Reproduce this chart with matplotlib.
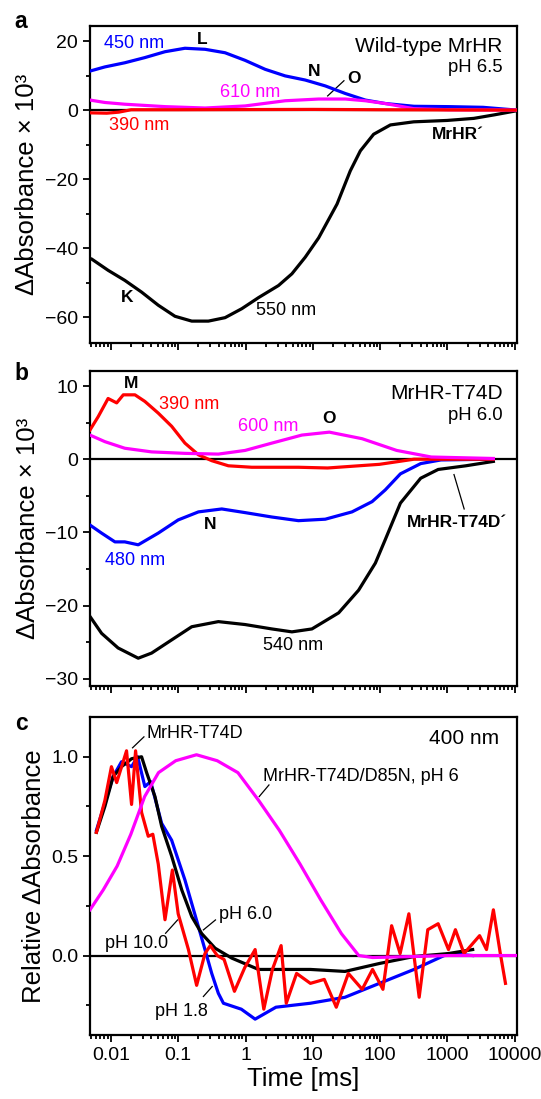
import matplotlib
matplotlib.use('Agg')
import matplotlib.pyplot as plt
from matplotlib.ticker import MultipleLocator, LogLocator, NullFormatter

plt.rcParams['font.family'] = ['Liberation Sans', 'DejaVu Sans']

# ---- panel a: wild-type MrHR, pH 6.5 ----
t_a_550 = [0.0049, 0.00516, 0.00912, 0.0161, 0.0286, 0.0506, 0.0896, 0.159, 0.281, 0.497,
           0.881, 1.56, 3.09, 4.89, 7.71, 12.2, 22.9, 36.0, 50.8, 80.0,
           142, 315, 988, 2460, 4900, 10600]
a_550 = [-43.0, -43.1, -46.4, -49.3, -52.7, -56.5, -59.7, -61.1, -61.1, -60.1,
         -57.5, -54.3, -50.8, -47.4, -42.6, -37.0, -27.2, -17.6, -11.8, -7.0,
         -4.3, -3.4, -3.0, -2.4, -1.4, -0.2]
t_a_450 = [0.0049, 0.00815, 0.0161, 0.032, 0.0637, 0.126, 0.251, 0.497, 0.986, 1.96,
           3.88, 7.71, 15.3, 30.4, 60.3, 119, 318, 1036, 3376, 10600]
a_450 = [11.3, 12.5, 13.7, 15.2, 16.9, 17.9, 17.6, 16.6, 14.4, 11.8,
         9.9, 8.7, 7.0, 4.8, 2.9, 1.9, 1.1, 1.0, 0.8, 0.0]
t_a_610 = [0.0049, 0.00815, 0.0161, 0.0637, 0.251, 0.986, 3.88, 12.2, 30.4, 60.3,
           119, 318, 1036, 10600]
a_610 = [2.9, 2.2, 1.7, 1.0, 0.6, 1.2, 2.7, 3.2, 3.2, 2.7,
         1.9, 0.4, 0.1, 0.0]
t_a_390 = [0.0049, 0.0087, 0.0131, 0.02, 0.1, 1.0, 10, 100, 1000, 10600]
a_390 = [-0.8, -0.9, -0.6, 0.1, 0.1, 0.15, 0.2, 0.1, 0.05, 0.0]

# ---- panel b: MrHR-T74D, pH 6.0 ----
t_b_390 = [0.0049, 0.00647, 0.0091, 0.0122, 0.0153, 0.0228, 0.032, 0.0506, 0.080, 0.126,
           0.20, 0.315, 0.557, 1.24, 6.12, 16.6, 97.6, 318, 1036, 4808]
b_390 = [4.0, 5.8, 8.3, 7.7, 8.8, 8.8, 7.9, 6.3, 4.5, 2.2,
         0.6, -0.2, -0.9, -1.1, -1.1, -1.2, -0.7, 0.0, 0.0, 0.0]
t_b_600 = [0.0049, 0.00815, 0.0161, 0.0403, 0.126, 0.395, 0.986, 2.46, 6.88, 17.6,
           54.1, 176, 574, 4808]
b_600 = [3.3, 2.4, 1.5, 1.0, 0.8, 0.7, 1.2, 2.2, 3.3, 3.7,
         2.8, 1.2, 0.3, 0.1]
t_b_480 = [0.0049, 0.00728, 0.0115, 0.0161, 0.0255, 0.0506, 0.1, 0.20, 0.444, 0.986,
           2.46, 6.12, 15.3, 38.2, 75.9, 119, 200, 400, 800, 4808]
b_480 = [-9.0, -10.1, -11.3, -11.3, -11.7, -10.1, -8.3, -7.2, -6.8, -7.3,
         -7.9, -8.4, -8.2, -7.2, -5.8, -4.2, -2.0, -0.6, -0.1, 0.0]
t_b_540 = [0.0049, 0.00728, 0.0128, 0.0255, 0.0403, 0.080, 0.159, 0.395, 0.986, 2.46,
           4.89, 9.7, 24.2, 47.9, 84.9, 119, 200, 400, 727, 1870, 4808]
b_540 = [-21.5, -23.8, -25.8, -27.2, -26.5, -24.7, -22.9, -22.2, -22.6, -23.2,
         -23.6, -23.2, -21.0, -17.9, -14.2, -11.0, -6.0, -2.6, -1.4, -0.9, -0.3]

# ---- panel c: relative absorbance at 400 nm ----
t_c_d85n = [0.0049, 0.0077, 0.0124, 0.0198, 0.0318, 0.051, 0.092, 0.187, 0.380, 0.771,
            1.57, 3.18, 6.46, 13.1, 26.6, 48.1, 77.1, 318, 1036, 10600]
c_d85n = [0.23, 0.33, 0.45, 0.61, 0.80, 0.92, 0.98, 1.01, 0.98, 0.92,
          0.78, 0.63, 0.46, 0.28, 0.11, 0.0, -0.01, -0.005, 0.0, 0.0]
t_c_ph6 = [0.0061, 0.00815, 0.0108, 0.0144, 0.0203, 0.0286, 0.034, 0.0452, 0.0568, 0.080,
           0.113, 0.159, 0.224, 0.353, 0.625, 1.56, 9.2, 30.0, 97.6, 318, 1036, 2368]
c_ph6 = [0.62, 0.75, 0.90, 0.95, 0.99, 1.0, 0.92, 0.80, 0.65, 0.50,
         0.33, 0.196, 0.11, 0.037, -0.013, -0.07, -0.07, -0.08, -0.04, -0.005, 0.01, 0.03]
t_c_ph18 = [0.0061, 0.0108, 0.0144, 0.0203, 0.025, 0.032, 0.039, 0.0568, 0.080, 0.126,
            0.175, 0.25, 0.315, 0.395, 0.47, 0.867, 1.39, 2.83, 9.2, 30.0,
            97.6, 318, 1036, 2368]
c_ph18 = [0.63, 0.90, 0.975, 0.95, 1.0, 0.85, 0.875, 0.665, 0.58, 0.38,
          0.213, 0.03, -0.09, -0.19, -0.24, -0.27, -0.32, -0.26, -0.24, -0.21,
          -0.14, -0.07, 0.01, 0.0]
t_c_ph10 = [0.0061, 0.00815, 0.0102, 0.0122, 0.0171, 0.0203, 0.0233, 0.0286, 0.0359, 0.042,
            0.0506, 0.0637, 0.082, 0.1, 0.142, 0.188, 0.25, 0.300, 0.380, 0.481,
            0.685, 0.977, 1.39, 1.87, 2.51, 3.38, 4.03, 5.74, 9.2, 14.8,
            22.3, 33.7, 54.1, 77.1, 110, 148, 198, 267, 318, 380,
            510, 727, 1036, 1312, 1762, 3000, 3800, 4808, 6094, 7271]
c_ph10 = [0.62, 0.78, 0.95, 0.87, 1.03, 0.76, 1.03, 0.72, 0.60, 0.61,
          0.46, 0.18, 0.43, 0.21, 0.03, -0.15, 0.01, 0.05, 0.0, -0.02,
          -0.18, -0.06, 0.03, -0.27, -0.07, 0.05, -0.24, -0.09, -0.14, -0.12,
          -0.26, -0.09, -0.17, -0.07, -0.17, 0.15, 0.01, 0.21, 0.0, -0.21,
          0.13, 0.16, 0.03, 0.13, 0.01, 0.10, 0.03, 0.23, 0.01, -0.14]

BLUE, RED, MAG, BLK = '#0000FF', '#FF0000', '#FF00FF', 'black'
LW = 2.3

fig = plt.figure(figsize=(5.41, 10.99), dpi=100)
L, W = 90 / 541, 426.5 / 541
ax_a = fig.add_axes([L, 0.6877, W, 0.2885])
ax_b = fig.add_axes([L, 0.3758, W, 0.2869])
ax_c = fig.add_axes([L, 0.0582, W, 0.2894])

for ax in (ax_a, ax_b, ax_c):
    ax.set_xscale('log')
    ax.set_xlim(0.0049, 10600)
    ax.axhline(0, color='black', lw=1.6, zorder=1)
    for s in ax.spines.values():
        s.set_linewidth(1.6)
    ax.tick_params(which='both', direction='out', top=False, right=False, width=1.3, labelsize=14)
    ax.tick_params(which='major', length=5)
    ax.tick_params(which='minor', length=3)
    ax.xaxis.set_major_locator(LogLocator(base=10, numticks=12))
    ax.xaxis.set_minor_locator(LogLocator(base=10, subs=range(2, 10), numticks=12))
    ax.xaxis.set_minor_formatter(NullFormatter())

# panel a
ax_a.plot(t_a_550, a_550, color=BLK, lw=LW, zorder=2)
ax_a.plot(t_a_450, a_450, color=BLUE, lw=LW, zorder=3)
ax_a.plot(t_a_610, a_610, color=MAG, lw=LW, zorder=4)
ax_a.plot(t_a_390, a_390, color=RED, lw=LW, zorder=5)
ax_a.set_ylim(-67.5, 24.3)
ax_a.yaxis.set_major_locator(MultipleLocator(20))
ax_a.yaxis.set_minor_locator(MultipleLocator(10))
ax_a.set_xticklabels([])
ax_a.set_ylabel('ΔAbsorbance × 10³', fontsize=18.5, labelpad=4)

ax_a.text(0.0080, 19.3, '450 nm', color=BLUE, fontsize=13, va='center')
ax_a.text(0.23, 20.3, 'L', fontsize=12.5, fontweight='bold', ha='center', va='center')
ax_a.text(10.6, 11.3, 'N', fontsize=12.5, fontweight='bold', ha='center', va='center')
ax_a.text(40.3, 9.2, 'O', fontsize=12.5, fontweight='bold', ha='center', va='center')
ax_a.plot([16.6, 29], [4.1, 8.5], color='black', lw=0.9)
ax_a.text(1.18, 5.2, '610 nm', color=MAG, fontsize=13, ha='center', va='center')
ax_a.text(0.026, -4.4, '390 nm', color=RED, fontsize=13, ha='center', va='center')
ax_a.text(1440, -7.1, 'MrHR´', fontsize=12.5, fontweight='bold', ha='center', va='center')
ax_a.text(0.0172, -54.2, 'K', fontsize=12.5, fontweight='bold', ha='center', va='center')
ax_a.text(4.03, -57.9, '550 nm', fontsize=13, ha='center', va='center')
ax_a.text(0.967, 0.937, 'Wild-type MrHR', transform=ax_a.transAxes, fontsize=15, ha='right', va='center')
ax_a.text(0.967, 0.869, 'pH 6.5', transform=ax_a.transAxes, fontsize=13.3, ha='right', va='center')

# panel b
ax_b.plot(t_b_540, b_540, color=BLK, lw=LW, zorder=2)
ax_b.plot(t_b_480, b_480, color=BLUE, lw=LW, zorder=3)
ax_b.plot(t_b_390, b_390, color=RED, lw=LW, zorder=4)
ax_b.plot(t_b_600, b_600, color=MAG, lw=LW, zorder=5)
ax_b.set_ylim(-31, 12.1)
ax_b.yaxis.set_major_locator(MultipleLocator(10))
ax_b.yaxis.set_minor_locator(MultipleLocator(5))
ax_b.set_xticklabels([])
ax_b.set_ylabel('ΔAbsorbance × 10³', fontsize=18.5, labelpad=4)

ax_b.text(0.0203, 10.3, 'M', fontsize=12.5, fontweight='bold', ha='center', va='center')
ax_b.text(0.144, 7.5, '390 nm', color=RED, fontsize=13, ha='center', va='center')
ax_b.text(2.2, 4.5, '600 nm', color=MAG, fontsize=13, ha='center', va='center')
ax_b.text(17.6, 5.5, 'O', fontsize=12.5, fontweight='bold', ha='center', va='center')
ax_b.text(0.30, -8.9, 'N', fontsize=12.5, fontweight='bold', ha='center', va='center')
ax_b.text(0.0231, -13.8, '480 nm', color=BLUE, fontsize=13, ha='center', va='center')
ax_b.text(5.01, -25.5, '540 nm', fontsize=13, ha='center', va='center')
ax_b.text(1380, -8.6, 'MrHR-T74D´', fontsize=12.5, fontweight='bold', ha='center', va='center')
ax_b.plot([1250, 1770], [-2.1, -6.8], color='black', lw=0.9)
ax_b.text(0.967, 0.927, 'MrHR-T74D', transform=ax_b.transAxes, fontsize=15, ha='right', va='center')
ax_b.text(0.967, 0.858, 'pH 6.0', transform=ax_b.transAxes, fontsize=13.3, ha='right', va='center')

# panel c
ax_c.plot(t_c_ph18, c_ph18, color=BLUE, lw=LW, zorder=2)
ax_c.plot(t_c_ph6, c_ph6, color=BLK, lw=LW, zorder=3)
ax_c.plot(t_c_ph10, c_ph10, color=RED, lw=LW, zorder=4)
ax_c.plot(t_c_d85n, c_d85n, color=MAG, lw=LW, zorder=5)
ax_c.set_ylim(-0.4, 1.2)
ax_c.yaxis.set_major_locator(MultipleLocator(0.5))
ax_c.yaxis.set_minor_locator(MultipleLocator(0.25))
ax_c.set_xticks([0.01, 0.1, 1, 10, 100, 1000, 10000])
ax_c.set_xticklabels(['0.01', '0.1', '1', '10', '100', '1000', '10000'])
ax_c.set_ylabel('Relative ΔAbsorbance', fontsize=18.5, labelpad=4)
ax_c.set_xlabel('Time [ms]', fontsize=18.5, labelpad=2)

ax_c.text(0.0338, 1.117, 'MrHR-T74D', fontsize=13, va='center')
ax_c.plot([0.021, 0.031], [1.045, 1.10], color='black', lw=0.9)
ax_c.text(1.80, 0.903, 'MrHR-T74D/D85N, pH 6', fontsize=13, va='center')
ax_c.plot([1.6, 2.23], [0.80, 0.858], color='black', lw=0.9)
ax_c.text(0.403, 0.204, 'pH 6.0', fontsize=13, va='center')
ax_c.plot([0.237, 0.358], [0.129, 0.179], color='black', lw=0.9)
ax_c.text(0.0245, 0.059, 'pH 10.0', fontsize=13, ha='center', va='center')
ax_c.plot([0.065, 0.098], [0.112, 0.179], color='black', lw=0.9)
ax_c.text(0.110, -0.281, 'pH 1.8', fontsize=13, ha='center', va='center')
ax_c.plot([0.237, 0.32], [-0.206, -0.156], color='black', lw=0.9)
ax_c.text(0.959, 0.931, '400 nm', transform=ax_c.transAxes, fontsize=15, ha='right', va='center')

# panel letters
fig.text(21 / 541, 1 - 22 / 1099, 'a', fontsize=16.5, fontweight='bold', ha='center', va='center')
fig.text(21 / 541, 1 - 373 / 1099, 'b', fontsize=16.5, fontweight='bold', ha='center', va='center')
fig.text(21 / 541, 1 - 723 / 1099, 'c', fontsize=16.5, fontweight='bold', ha='center', va='center')

fig.savefig('out.png', dpi=100)
